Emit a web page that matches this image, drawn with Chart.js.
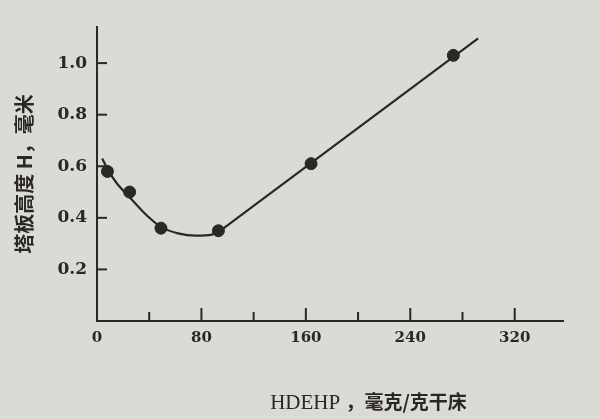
<!DOCTYPE html>
<html>
<head>
<meta charset="utf-8">
<script src="https://cdn.jsdelivr.net/npm/chart.js@4"></script>
<style>
  html, body { margin: 0; padding: 0; background: #dcdad4; }
  #wrap { width: 600px; height: 419px; }
</style>
</head>
<body>
<div id="wrap"><canvas id="c" width="600" height="419"></canvas></div>
<script>
/* measured points */
const hdehp = [8, 25, 49, 93, 164, 273];
const plateH = [0.58, 0.50, 0.36, 0.35, 0.61, 1.03];

/* hand-drawn fit: curved part, then straight part */
const fitX = [4, 8, 15, 25, 37, 49, 62, 76, 88, 93];
const fitH = [0.63, 0.59, 0.535, 0.48, 0.415, 0.365, 0.34, 0.331, 0.335, 0.345];
const lineX = [93, 292];
const lineH = [0.345, 1.096];

const xTicks = [0, 80, 160, 240, 320];
const yTicks = [0.2, 0.4, 0.6, 0.8, 1.0];

const INK = '#2a2826';
const pts = (xs, ys) => xs.map((x, i) => ({ x, y: ys[i] }));

/* tick marks drawn inward, as in the print */
const innerTicks = {
  id: 'innerTicks',
  afterDraw(chart) {
    const { ctx, scales: { x, y } } = chart;
    ctx.save();
    ctx.strokeStyle = INK;
    ctx.lineWidth = 2;
    for (let v = 40; v <= 320; v += 40) {
      const px = x.getPixelForValue(v);
      const len = (v % 80 === 0) ? 13 : 9;
      ctx.beginPath(); ctx.moveTo(px, y.bottom); ctx.lineTo(px, y.bottom - len); ctx.stroke();
    }
    yTicks.forEach(v => {
      const py = y.getPixelForValue(v);
      ctx.beginPath(); ctx.moveTo(x.left, py); ctx.lineTo(x.left + 10, py); ctx.stroke();
    });
    // x axis title, set off to the right like the original
    const latin = 'HDEHP ', cjk = '，毫克/克干床';
    const fLatin = '21px "Liberation Serif"';
    const fCjk = 'bold 19px "Noto Sans CJK SC"';
    ctx.font = fLatin; const w1 = ctx.measureText(latin).width;
    ctx.font = fCjk; const w2 = ctx.measureText(cjk).width;
    const x0 = x.getPixelForValue(208) - (w1 + w2) / 2;
    ctx.fillStyle = INK;
    ctx.textAlign = 'left';
    ctx.textBaseline = 'middle';
    ctx.font = fLatin; ctx.fillText(latin, x0, 403);
    ctx.font = fCjk; ctx.fillText(cjk, x0 + w1, 402);
    ctx.restore();
  }
};

new Chart(document.getElementById('c'), {
  type: 'line',
  data: {
    datasets: [
      {
        data: pts(fitX, fitH), borderColor: INK, borderWidth: 2.2,
        pointRadius: 0, cubicInterpolationMode: 'monotone', fill: false
      },
      {
        data: pts(lineX, lineH), borderColor: INK, borderWidth: 2.2,
        pointRadius: 0, tension: 0, fill: false
      },
      {
        data: pts(hdehp, plateH), showLine: false,
        pointRadius: 6, pointBackgroundColor: INK, pointBorderColor: INK
      }
    ]
  },
  options: {
    responsive: false,
    animation: false,
    layout: { padding: { top: 27, right: 37, left: 0, bottom: 0 } },
    plugins: { legend: { display: false }, tooltip: { enabled: false } },
    scales: {
      x: {
        type: 'linear', min: 0, max: 357,
        afterFit: s => { s.height = 98; },
        grid: { display: false, drawTicks: false },
        border: { display: true, color: INK, width: 2 },
        afterBuildTicks: s => { s.ticks = xTicks.map(v => ({ value: v })); },
        ticks: {
          padding: 8, color: INK, autoSkip: false, maxRotation: 0,
          font: { family: '"DejaVu Serif"', size: 15, weight: 'bold' }
        }
      },
      y: {
        type: 'linear', min: 0, max: 1.14,
        afterFit: s => { s.width = 97; },
        grid: { display: false, drawTicks: false },
        border: { display: true, color: INK, width: 2 },
        afterBuildTicks: s => { s.ticks = yTicks.map(v => ({ value: v })); },
        ticks: {
          padding: 10, color: INK,
          callback: v => v.toFixed(1),
          font: { family: '"DejaVu Serif"', size: 17, weight: 'bold' }
        },
        title: {
          display: true, text: '塔板高度 H，毫米', color: INK,
          padding: { top: 12, bottom: 0 },
          font: { family: '"Noto Sans CJK SC"', size: 20, weight: 'bold' }
        }
      }
    }
  },
  plugins: [innerTicks]
});
</script>
</body>
</html>
